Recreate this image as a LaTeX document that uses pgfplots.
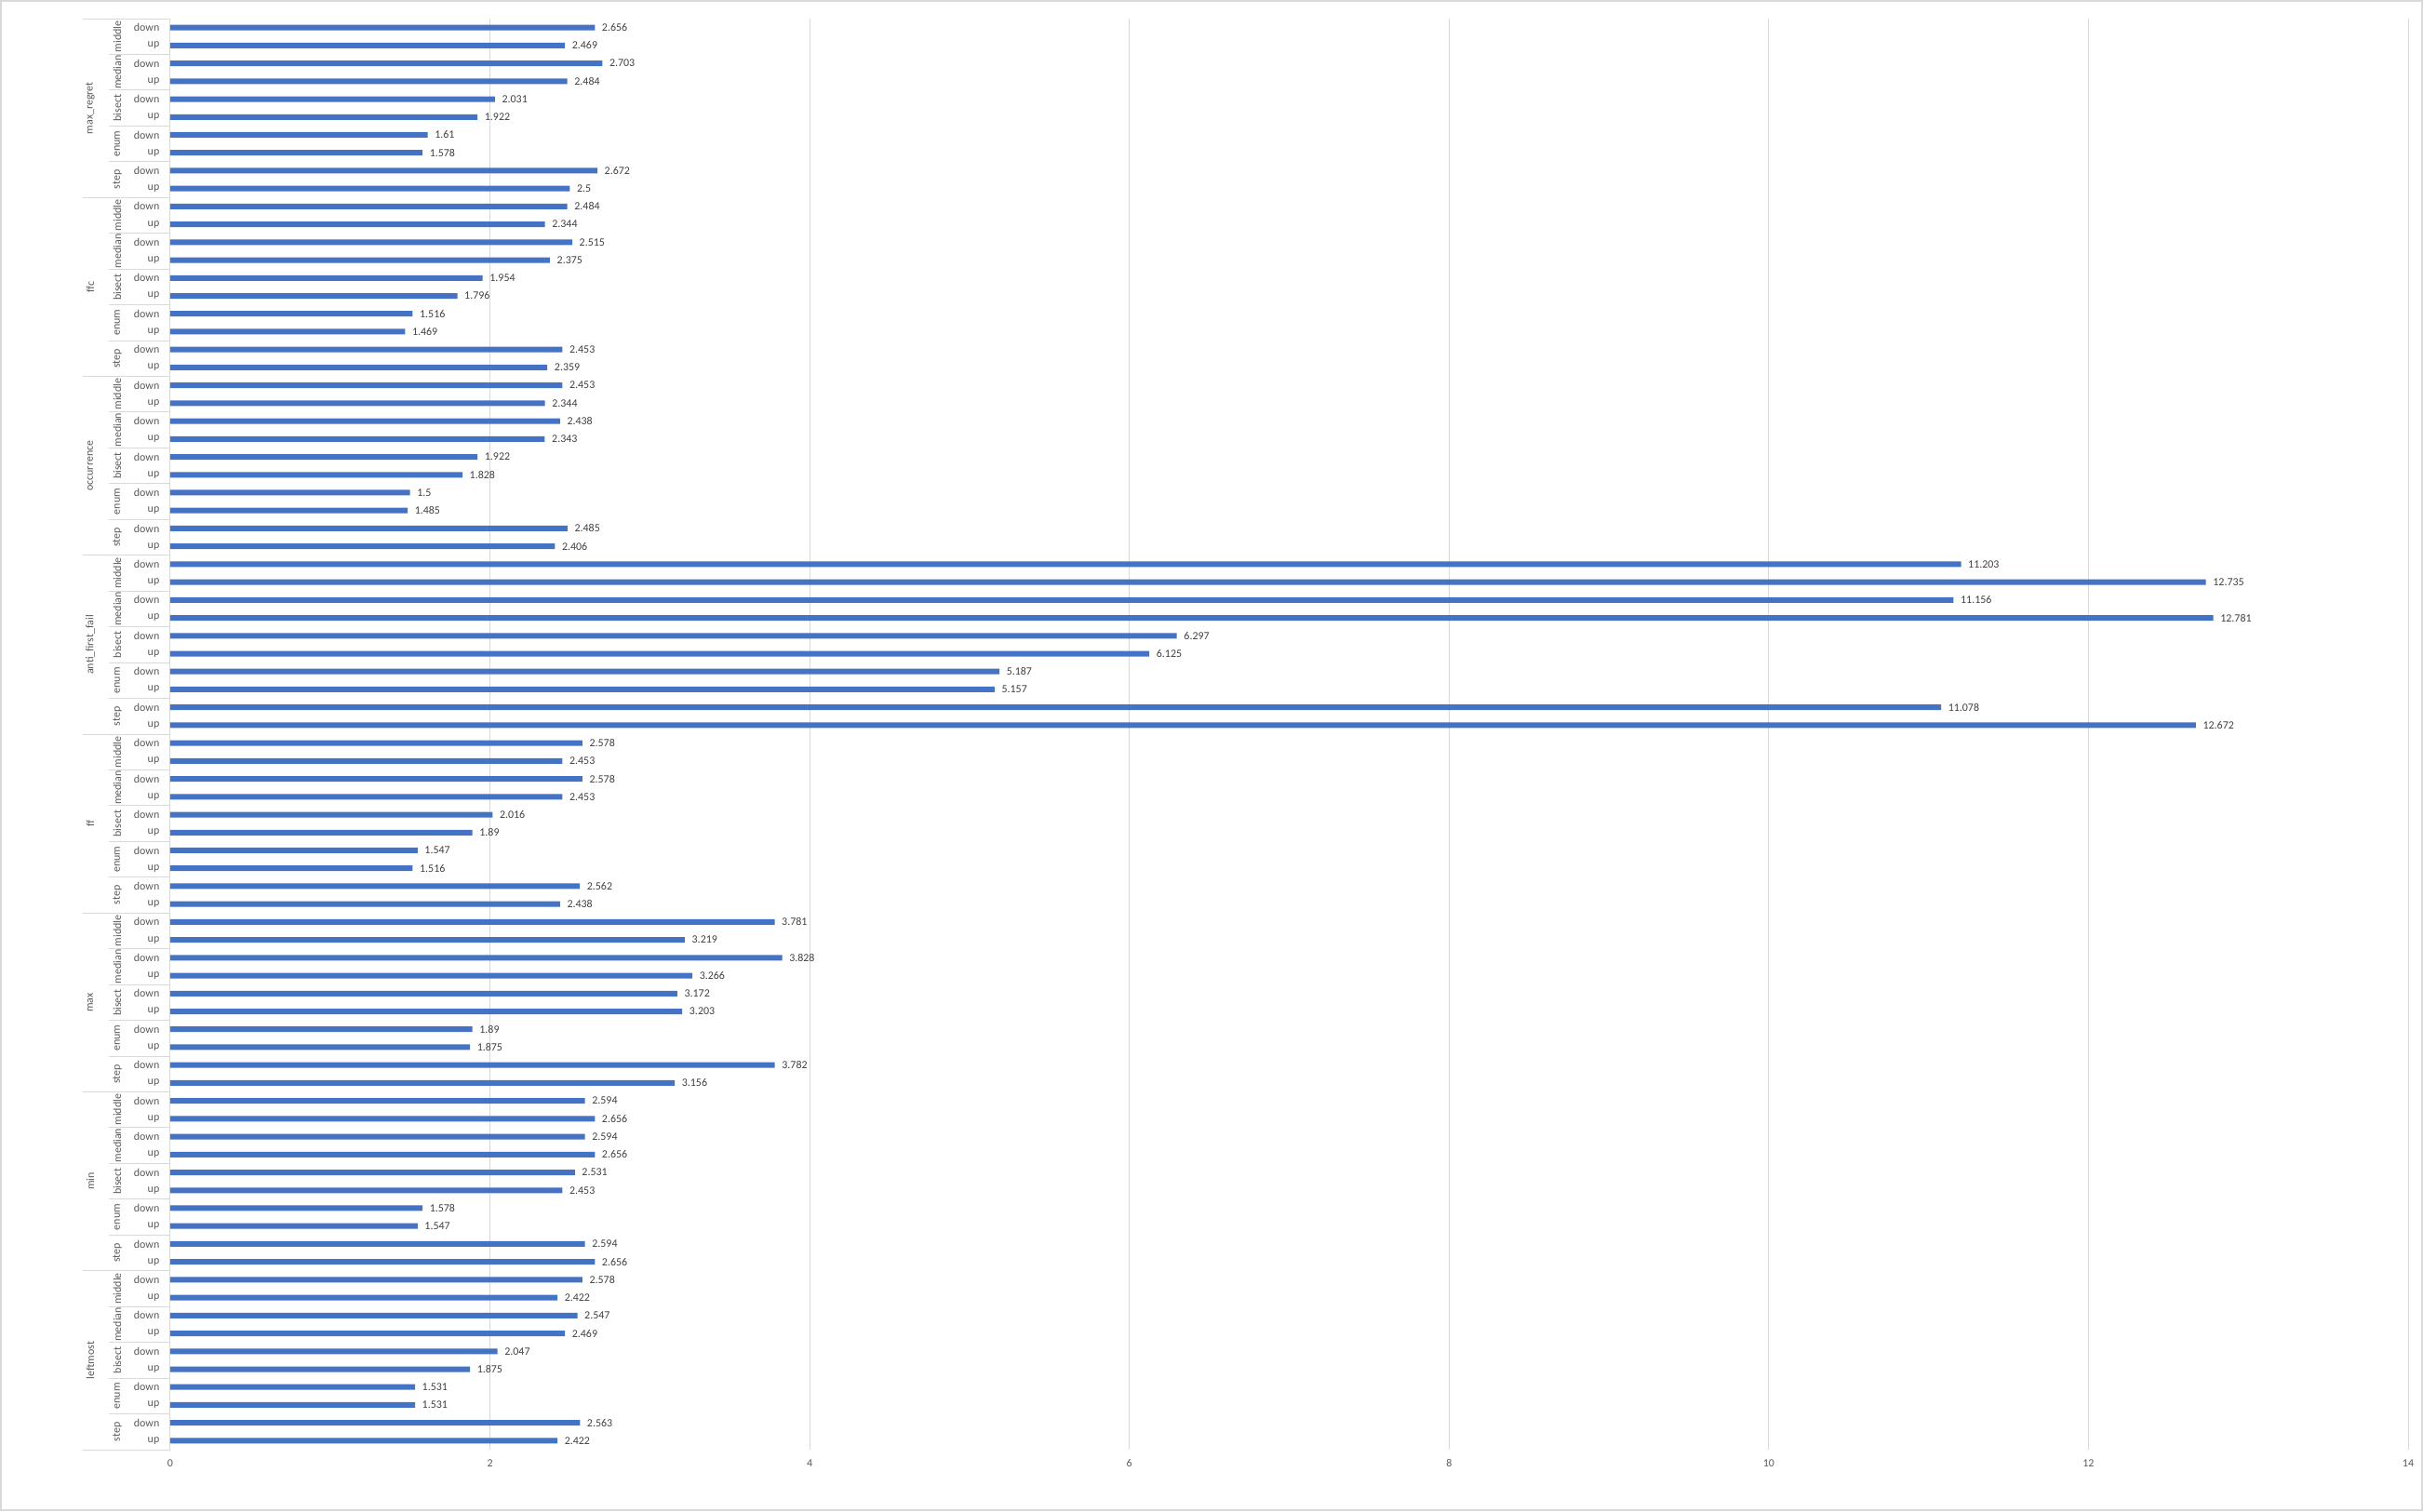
\documentclass[border=0pt]{standalone}
\usepackage{pgfplots}
\pgfplotsset{compat=1.18}
\usepackage{fontspec}
\setmainfont{Carlito}

\definecolor{barblue}{HTML}{4472C4}
\definecolor{gridc}{HTML}{D9D9D9}
\definecolor{lbl}{HTML}{595959}
\definecolor{val}{HTML}{404040}
\newcommand{\xl}{\fontsize{3.4pt}{4pt}\selectfont}

\begin{document}
\begin{tikzpicture}
\useasboundingbox (-18.3mm,-6.6mm) rectangle (242.1mm,155.8mm);
\draw[gridc, line width=0.15mm] (-18.2mm,-6.5mm) rectangle (242.0mm,155.7mm);
\begin{axis}[
    at={(0,0)}, anchor=south west,
    scale only axis,
    width=240.5mm, height=153.8mm,
    xbar, bar width=0.6mm,
    xmin=0, xmax=14,
    ymin=-0.5, ymax=79.5,
    enlargelimits=false,
    clip=false,
    axis line style={draw=none},
    tick style={draw=none},
    major tick length=0pt,
    xtick={0,2,...,14},
    xmajorgrids,
    grid style={gridc, line width=0.1mm},
    ytick={0,...,79},
    yticklabel={\ifodd\ticknum down\else up\fi},
    yticklabel style={font=\xl, text=lbl, anchor=east, inner sep=0pt, xshift=-1.1mm},
    xticklabel style={font=\xl, text=lbl, anchor=north, inner sep=0pt, yshift=-1.0mm},
    /pgf/number format/assume math mode=true,
    nodes near coords={\pgfmathprintnumber[precision=3]{\pgfplotspointmeta}},
    nodes near coords style={font=\xl, text=val, anchor=west, inner sep=0pt, xshift=0.7mm},
]
% bottom to top: leftmost, min, max, ff, anti_first_fail, occurrence, ffc, max_regret
% each: step up/down, enum up/down, bisect up/down, median up/down, middle up/down
\addplot[fill=barblue, draw=none] coordinates {
(2.422,0) (2.563,1) (1.531,2) (1.531,3) (1.875,4) (2.047,5) (2.469,6) (2.547,7) (2.422,8) (2.578,9)
(2.656,10) (2.594,11) (1.547,12) (1.578,13) (2.453,14) (2.531,15) (2.656,16) (2.594,17) (2.656,18) (2.594,19)
(3.156,20) (3.782,21) (1.875,22) (1.89,23) (3.203,24) (3.172,25) (3.266,26) (3.828,27) (3.219,28) (3.781,29)
(2.438,30) (2.562,31) (1.516,32) (1.547,33) (1.89,34) (2.016,35) (2.453,36) (2.578,37) (2.453,38) (2.578,39)
(12.672,40) (11.078,41) (5.157,42) (5.187,43) (6.125,44) (6.297,45) (12.781,46) (11.156,47) (12.735,48) (11.203,49)
(2.406,50) (2.485,51) (1.485,52) (1.5,53) (1.828,54) (1.922,55) (2.343,56) (2.438,57) (2.344,58) (2.453,59)
(2.359,60) (2.453,61) (1.469,62) (1.516,63) (1.796,64) (1.954,65) (2.375,66) (2.515,67) (2.344,68) (2.484,69)
(2.5,70) (2.672,71) (1.578,72) (1.61,73) (1.922,74) (2.031,75) (2.484,76) (2.703,77) (2.469,78) (2.656,79)
};

% outer group labels and separators
\foreach \g/\name in {0/leftmost,1/min,2/max,3/ff,4/anti\_first\_fail,5/occurrence,6/ffc,7/max\_regret}{
  \pgfmathsetmacro\yc{\g*10+4.5}
  \edef\temp{\noexpand\node[rotate=90, font=\noexpand\xl, text=lbl, inner sep=0pt]
     at ([xshift=-8.6mm]axis cs:0,\yc) {\unexpanded\expandafter{\name}};}
  \temp
}
\foreach \g in {0,...,8}{
  \pgfmathsetmacro\ys{\g*10-0.5}
  \edef\temp{\noexpand\draw[gridc, line width=0.1mm] ([xshift=-9.4mm]axis cs:0,\ys) -- (axis cs:0,\ys);}
  \temp
}
% second level labels and separators
\foreach \g in {0,...,7}{
  \foreach \m/\name in {0/step,1/enum,2/bisect,3/median,4/middle}{
    \pgfmathsetmacro\yc{\g*10+\m*2+0.5}
    \edef\temp{\noexpand\node[rotate=90, font=\noexpand\xl, text=lbl, inner sep=0pt]
       at ([xshift=-5.7mm]axis cs:0,\yc) {\name};}
    \temp
  }
  \foreach \m in {1,...,4}{
    \pgfmathsetmacro\ys{\g*10+\m*2-0.5}
    \edef\temp{\noexpand\draw[gridc, line width=0.1mm] ([xshift=-6.6mm]axis cs:0,\ys) -- (axis cs:0,\ys);}
    \temp
  }
}
\end{axis}
\end{tikzpicture}
\end{document}
